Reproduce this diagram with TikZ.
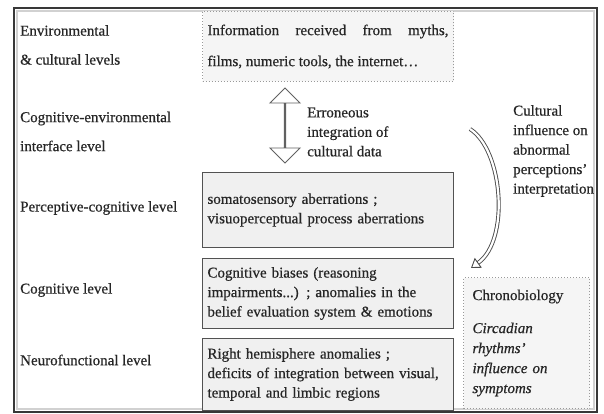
\documentclass[tikz,border=0pt]{standalone}
\usepackage{fontspec}
\setmainfont{Liberation Serif}[FakeBold=0.6]
\usetikzlibrary{shapes.arrows, arrows.meta}

\newcommand{\LevelLabel}[3]{
    \node[levellabel] (#1) at (20, #2) {#3};
}
\newcommand{\LevelBox}[4]{
    \node[levelbox, minimum height=#3] (#1) at (202, #2) {#4};
}

\begin{document}
\begin{tikzpicture}[
        x=1pt, y=-1pt,
        every node/.style={font=\fontsize{15}{19.5}\selectfont, inner sep=0pt, text=black!85},
        frame/.style={draw=black!78, line width=2.6pt},
        frameshade/.style={draw=black!18, line width=2.5pt},
        levellabel/.style={anchor=west, align=left, font=\fontsize{15}{29}\selectfont},
        levelbox/.style={draw=black!68, fill=black!6, line width=1pt, anchor=north west,
            minimum width=251pt, text width=241pt, align=left},
        dotbox/.style={draw=black!40, dotted, line width=1pt, fill=black!4, anchor=north west},
        dblarrow/.style={shape=double arrow, rotate=90, draw=black!62, fill=white, line width=0.9pt,
            minimum height=75pt, minimum width=30pt, double arrow head extend=10pt},
        note/.style={anchor=west, align=left},
        cultarrow/.style={draw=black!70, line width=0.9pt, double=white, double distance=2.2pt,
            -{Triangle[open, length=9pt, width=12pt]}}
    ]
  \useasboundingbox (0,0) rectangle (604,414);
  %%% Outer frame
  \fill[white] (14,8) rectangle (597,412);
  \draw[frameshade] (17,11) rectangle (594,409);
  \draw[frame] (14,8) rectangle (597,412);

  %%% Level names on the left
  \LevelLabel{envlabel}{45}{Environmental\\\& cultural levels}
  \LevelLabel{interlabel}{131.5}{Cognitive-environmental\\interface level}
  \LevelLabel{perclabel}{208}{Perceptive-cognitive level}
  \LevelLabel{coglabel}{290}{Cognitive level}
  \LevelLabel{neurolabel}{360}{Neurofunctional level}

  %%% Boxes
  \node[dotbox, minimum width=251pt, minimum height=70pt, text width=241pt, align=justify,
        font=\fontsize{15}{31}\selectfont] (info) at (202, 11)
    {Information received from myths,\linebreak films, numeric tools, the internet\ldots};
  \LevelBox{percep}{172}{75pt}{somatosensory aberrations ;\\visuoperceptual process aberrations}
  \LevelBox{cogn}{258}{70pt}{Cognitive biases (reasoning\\impairments...) ; anomalies in the\\belief evaluation system \& emotions}
  \LevelBox{neuro}{338}{72pt}{Right hemisphere anomalies ;\\deficits of integration between visual,\\temporal and limbic regions}
  \node[dotbox, minimum width=126pt, minimum height=131pt, text width=108pt, align=left,
        font=\fontsize{15}{20}\selectfont] (chrono) at (463, 277)
    {Chronobiology\\[13pt]\itshape Circadian\\rhythms'\\influence on\\symptoms};

  %%% Arrows and their notes
  \node[dblarrow] (integ) at (285, 125.5) {};
  \node[note] (integnote) at (307, 132) {Erroneous\\integration of\\cultural data};

  \coordinate (cultfrom) at (470, 129);
  \coordinate (cultto) at (471, 268);
  \draw[cultarrow] (cultfrom) .. controls (503,150) and (510,240) .. (cultto);
  \node[note] (cultnote) at (513, 151) {Cultural\\influence on\\abnormal\\perceptions'\\interpretation};
\end{tikzpicture}
\end{document}
